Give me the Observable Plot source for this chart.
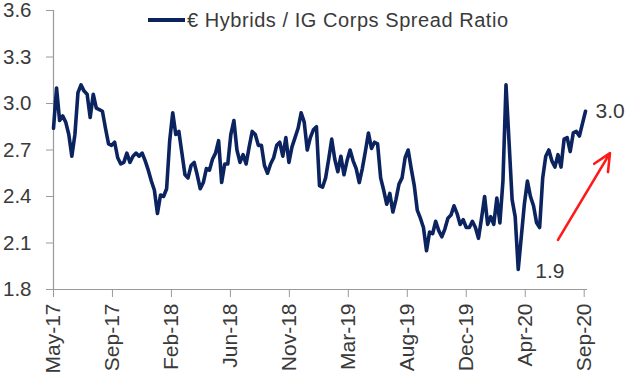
<!DOCTYPE html>
<html>
<head>
<meta charset="utf-8">
<script src="https://cdn.jsdelivr.net/npm/d3@7"></script>
<script src="https://cdn.jsdelivr.net/npm/@observablehq/plot@0.6"></script>
<style>
  html, body { margin: 0; padding: 0; background: #fff; }
  #wrap { position: relative; width: 626px; height: 380px; font-family: "Liberation Sans", Arial, sans-serif; }
  #legend { position: absolute; left: 148px; top: 8px; display: flex; align-items: center; height: 24px; color: #3a3a3a; font-size: 20px; letter-spacing: 0.55px; white-space: pre; }
  #legend .sw { width: 37px; height: 3.5px; background: #0b235f; margin-right: 2px; }
</style>
</head>
<body>
<div id="wrap"><div id="legend"><span class="sw"></span><span id="legendText"></span></div></div>
<script>
// Series: weekly observations starting on this date
const seriesName = "€ Hybrids / IG Corps Spread Ratio";
const firstWeek = "2017-05-15";
const ratio = [
  2.84, 3.10, 2.89, 2.92, 2.88, 2.80, 2.66, 2.80, 3.07, 3.12,
  3.08, 3.06, 2.91, 3.06, 2.97, 2.96, 2.95, 2.84, 2.74, 2.73,
  2.75, 2.65, 2.61, 2.62, 2.68, 2.62, 2.66, 2.68, 2.66, 2.68,
  2.63, 2.57, 2.50, 2.44, 2.29, 2.41, 2.40, 2.45, 2.76, 2.94,
  2.80, 2.82, 2.68, 2.54, 2.52, 2.60, 2.62, 2.54, 2.45, 2.49,
  2.58, 2.57, 2.64, 2.68, 2.76, 2.49, 2.61, 2.61, 2.80, 2.89,
  2.70, 2.62, 2.67, 2.61, 2.72, 2.82, 2.80, 2.73, 2.73, 2.60,
  2.55, 2.61, 2.65, 2.73, 2.75, 2.66, 2.78, 2.62, 2.72, 2.78,
  2.84, 2.94, 2.88, 2.70, 2.78, 2.83, 2.85, 2.47, 2.46, 2.52,
  2.64, 2.77, 2.64, 2.56, 2.66, 2.54, 2.63, 2.70, 2.63, 2.58,
  2.49, 2.58, 2.69, 2.81, 2.71, 2.75, 2.74, 2.52, 2.44, 2.35,
  2.42, 2.30, 2.38, 2.48, 2.52, 2.65, 2.70, 2.58, 2.47, 2.31,
  2.26, 2.20, 2.05, 2.17, 2.16, 2.24, 2.18, 2.14, 2.19, 2.26,
  2.28, 2.34, 2.29, 2.22, 2.25, 2.20, 2.20, 2.24, 2.20, 2.13,
  2.26, 2.40, 2.22, 2.27, 2.22, 2.39, 2.23, 2.50, 3.12, 2.75,
  2.38, 2.27, 1.93, 2.14, 2.35, 2.50, 2.40, 2.34, 2.23, 2.20,
  2.52, 2.66, 2.70, 2.63, 2.59, 2.67, 2.59, 2.77, 2.78, 2.69,
  2.81, 2.82, 2.79, 2.87, 2.95
];

// Axes
const xDomain = ["2017-05-15", "2020-09-14"];
const yTicks = [1.8, 2.1, 2.4, 2.7, 3.0, 3.3, 3.6];
const xTickDates = ["2017-05-15", "2017-09-27", "2018-02-09", "2018-06-24", "2018-11-06",
                    "2019-03-21", "2019-08-03", "2019-12-16", "2020-04-29", "2020-09-11"];

// Annotations
const endLabel = "3.0";
const lowLabel = "1.9";
const arrowFrom = { date: "2020-07-13", value: 2.12 };
const arrowTo = { date: "2020-11-09", value: 2.68 };

// ---- build table ----
const start = new Date(firstWeek + "T00:00:00Z");
const data = ratio.map((v, i) => ({ date: d3.utcDay.offset(start, 7 * i), value: v }));
const lastPt = data[data.length - 1];
const lowPt = data.reduce((a, b) => (b.value < a.value ? b : a));
const parse = s => new Date(s + "T00:00:00Z");

const ink = "#3a3a3a";
const axisGray = "#9a9a9a";
const navy = "#0b235f";

const chart = Plot.plot({
  width: 626,
  height: 380,
  marginLeft: 53,
  marginRight: 41,
  marginTop: 10,
  marginBottom: 91,
  style: { fontFamily: "'Liberation Sans', Arial, sans-serif", color: ink, background: "#fff", overflow: "visible" },
  x: { type: "utc", domain: xDomain.map(parse) },
  y: { domain: [1.8, 3.6] },
  marks: [
    Plot.axisY({ ticks: yTicks, tickFormat: d3.format(".1f"), tickSize: 7, tickPadding: 15, stroke: axisGray, fontSize: 20.5, fill: ink, label: null }),
    Plot.axisX({ ticks: xTickDates.map(parse), tickFormat: d3.utcFormat("%b-%y"), tickSize: 8, tickPadding: 6, tickRotate: -90, stroke: axisGray, fontSize: 21, fill: ink, label: null }),
    Plot.ruleX([parse(xDomain[0])], { stroke: axisGray, strokeWidth: 1.2 }),
    Plot.ruleY([1.8], { stroke: axisGray, strokeWidth: 1.2, insetRight: -2 }),
    Plot.line(data, { x: "date", y: "value", stroke: navy, strokeWidth: 3.6, strokeLinejoin: "round", curve: "linear" }),
    Plot.text([lastPt], { x: "date", y: "value", text: () => endLabel, dx: 10, dy: 0, textAnchor: "start", fontSize: 21, fill: ink }),
    Plot.text([lowPt], { x: "date", y: "value", text: () => lowLabel, dx: 17, dy: 2, textAnchor: "start", fontSize: 21, fill: ink }),
    Plot.arrow([{ x1: parse(arrowFrom.date), y1: arrowFrom.value, x2: parse(arrowTo.date), y2: arrowTo.value }],
      { x1: "x1", y1: "y1", x2: "x2", y2: "y2", stroke: "#ff1a1a", strokeWidth: 2.6, headLength: 11, headAngle: 50 })
  ]
});
document.getElementById("legendText").textContent = seriesName;
document.getElementById("wrap").prepend(chart);
chart.style.position = "absolute";
chart.style.left = "0";
chart.style.top = "0";
</script>
</body>
</html>
